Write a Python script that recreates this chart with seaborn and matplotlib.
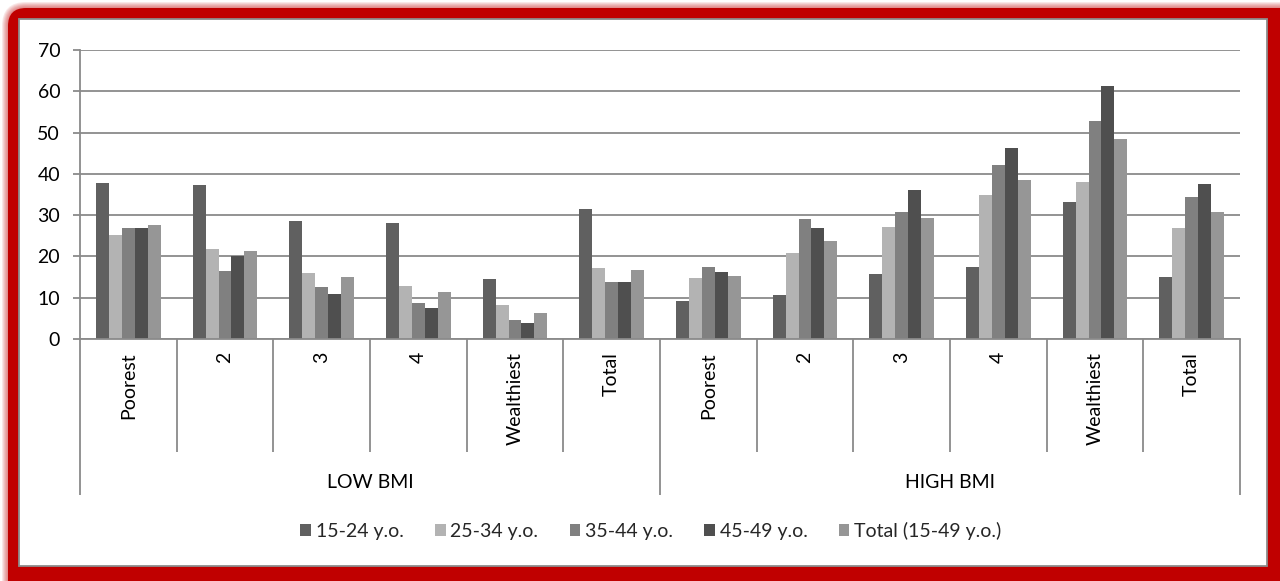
import numpy as np
import pandas as pd
import matplotlib
matplotlib.use("Agg")
import matplotlib.pyplot as plt
import seaborn as sns
from matplotlib.patches import FancyBboxPatch, Rectangle
from matplotlib.transforms import IdentityTransform

# ---- data -------------------------------------------------------------
bmi_groups = ["LOW BMI", "HIGH BMI"]
wealth = ["Poorest", "2", "3", "4", "Wealthiest", "Total"]
age_groups = ["15-24 y.o.", "25-34 y.o.", "35-44 y.o.", "45-49 y.o.", "Total (15-49 y.o.)"]

# values per age group: six LOW BMI categories followed by six HIGH BMI categories
age_15_24 = [37.8, 37.2, 28.5, 28.0, 14.6, 31.6, 9.2, 10.7, 15.8, 17.5, 33.3, 14.9]
age_25_34 = [25.3, 21.7, 16.0, 12.9, 8.3, 17.1, 14.7, 20.8, 27.2, 35.0, 38.1, 26.9]
age_35_44 = [26.8, 16.4, 12.6, 8.6, 4.7, 13.7, 17.4, 29.1, 30.8, 42.1, 52.9, 34.5]
age_45_49 = [26.8, 20.2, 10.9, 7.4, 3.9, 13.7, 16.3, 26.9, 36.2, 46.3, 61.2, 37.5]
age_total = [27.7, 21.4, 14.9, 11.3, 6.3, 16.7, 15.2, 23.7, 29.2, 38.5, 48.5, 30.7]

y_ticks = [0, 10, 20, 30, 40, 50, 60, 70]

colors = ["#606060", "#b3b3b3", "#808080", "#4f4f4f", "#969696"]
grid_gray = "#8a8a8a"

# ---- long table for seaborn ------------------------------------------
series = [age_15_24, age_25_34, age_35_44, age_45_49, age_total]
slots = [f"{g}|{w}" for g in bmi_groups for w in wealth]
rows = []
for age, vals in zip(age_groups, series):
    for slot, v in zip(slots, vals):
        rows.append({"slot": slot, "age": age, "value": v})
df = pd.DataFrame(rows)

# ---- figure -----------------------------------------------------------
W, H = 1280, 581
sns.set_style("white")
plt.rcParams["font.family"] = ["Lato", "DejaVu Sans"]
fig = plt.figure(figsize=(W / 100, H / 100), dpi=100)
fig.patch.set_facecolor("white")

# red rounded frame with a soft outer glow
red = "#c00000"
frame_left, frame_top = 8, 8
for k in range(6, 0, -1):
    fig.add_artist(FancyBboxPatch((frame_left - k, -40), W + 60, H - frame_top + k + 40,
                                  boxstyle="round,pad=0,rounding_size=%d" % (18 + k),
                                  transform=IdentityTransform(), fc=red, ec="none",
                                  alpha=0.09, zorder=-5))
fig.add_artist(FancyBboxPatch((frame_left, -40), W + 60, H - frame_top + 40,
                              boxstyle="round,pad=0,rounding_size=18",
                              transform=IdentityTransform(), fc=red, ec="none", zorder=-4))
fig.add_artist(Rectangle((19, H - 566), 1267 - 19, 566 - 19,
                         transform=IdentityTransform(), fc="white", ec="#8c8c8c",
                         lw=1.3, zorder=-3))

ax_left, ax_right, ax_top, ax_bottom = 80, 1240, 50, 339
ax = fig.add_axes([ax_left / W, 1 - ax_bottom / H,
                   (ax_right - ax_left) / W, (ax_bottom - ax_top) / H])
ax.set_facecolor("none")

sns.barplot(data=df, x="slot", y="value", hue="age", order=slots,
            hue_order=age_groups, palette=colors, width=0.67, gap=0,
            saturation=1, ax=ax, legend=True, edgecolor="none", linewidth=0)

ax.set_xlim(-0.5, len(slots) - 0.5)
ax.set_ylim(0, 70)
ax.set_yticks(y_ticks)
ax.set_xticks([])
ax.set_xlabel("")
ax.set_ylabel("")
ax.yaxis.grid(True, color=grid_gray, lw=1.3)
ax.set_axisbelow(True)
for s in ["top", "right"]:
    ax.spines[s].set_visible(False)
for s in ["left", "bottom"]:
    ax.spines[s].set_color(grid_gray)
    ax.spines[s].set_linewidth(1.3)
ax.tick_params(axis="y", length=5.3, width=1.3, color=grid_gray, pad=9,
               labelsize=14, labelcolor="black", left=True)

# two-level category axis below the plot
axh = ax_bottom - ax_top
tr = ax.get_xaxis_transform()
sep_short = -(452 - ax_bottom) / axh
sep_long = -(495 - ax_bottom) / axh
lab_top = -(352 - ax_bottom) / axh
grp_y = -(482 - ax_bottom) / axh
n = len(wealth)
for i in range(len(slots) + 1):
    x = i - 0.5
    y1 = sep_long if i % n == 0 else sep_short
    ax.plot([x, x], [0, y1], transform=tr, color=grid_gray, lw=1.3,
            clip_on=False, solid_capstyle="butt")
for i, slot in enumerate(slots):
    ax.text(i, lab_top, slot.split("|")[1], transform=tr, rotation=90,
            ha="center", va="top", fontsize=14, color="black")
for j, g in enumerate(bmi_groups):
    ax.text(j * n + (n - 1) / 2, grp_y, g, transform=tr, ha="center",
            va="center", fontsize=14, color="black")

# legend along the bottom
handles, labels = ax.get_legend_handles_labels()
ax.get_legend().remove()
fig.legend(handles, labels, loc="center", bbox_to_anchor=(651 / W, 1 - 531 / H),
           ncol=5, frameon=False, fontsize=14, handlelength=0.55, handleheight=0.55,
           handletextpad=0.25, columnspacing=1.6, borderaxespad=0)

fig.savefig("out.png", dpi=100)
